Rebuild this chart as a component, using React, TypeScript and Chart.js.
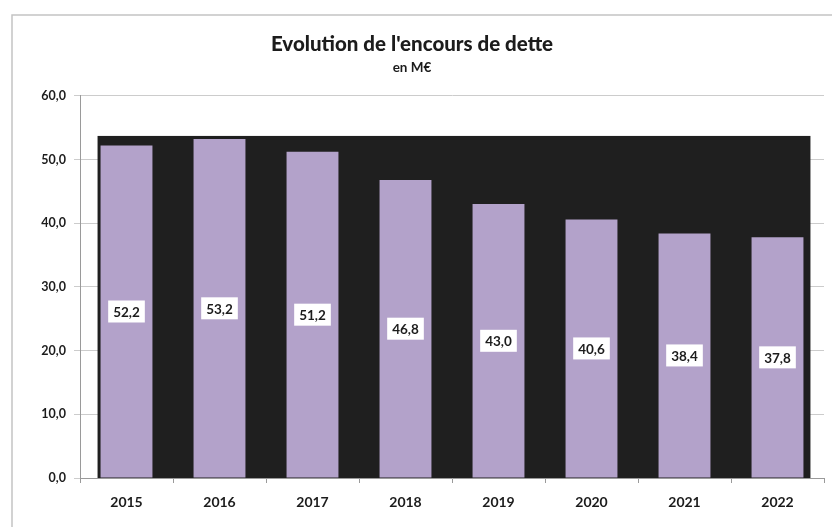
import { useEffect, useRef } from "react";
import { Chart, registerables } from "chart.js";

Chart.register(...registerables);

const categories = ["2015", "2016", "2017", "2018", "2019", "2020", "2021", "2022"];
const debtValues = [52.2, 53.2, 51.2, 46.8, 43.0, 40.6, 38.4, 37.8];
const yTickValues = [0, 10, 20, 30, 40, 50, 60];
const backdropTopValue = 53.7;
const titleText = "Evolution de l'encours de dette";
const subtitleText = "en M€";

const FONT = "Lato, 'Open Sans', sans-serif";
const TEXT = "#1c1c1c";

const fmt = (v: number) => v.toFixed(1).replace(".", ",");

const framePlugin = {
  id: "frame",
  beforeDraw(chart: any) {
    const ctx = chart.ctx;
    ctx.save();
    ctx.fillStyle = "#ffffff";
    ctx.fillRect(0, 0, chart.width, chart.height);
    ctx.strokeStyle = "#c4c4c4";
    ctx.lineWidth = 1.5;
    ctx.beginPath();
    ctx.moveTo(12, chart.height);
    ctx.lineTo(12, 15);
    ctx.lineTo(chart.width, 15);
    ctx.stroke();
    ctx.restore();
  },
};

const backdropPlugin = {
  id: "backdrop",
  beforeDatasetsDraw(chart: any) {
    const meta = chart.getDatasetMeta(0);
    if (!meta.data.length) return;
    const first = meta.data[0] as any;
    const last = meta.data[meta.data.length - 1] as any;
    const y = chart.scales.y;
    const left = first.x - first.width / 2 - 3;
    const right = last.x + last.width / 2 + 7;
    const top = y.getPixelForValue(backdropTopValue);
    const bottom = y.getPixelForValue(0);
    const ctx = chart.ctx;
    ctx.save();
    ctx.fillStyle = "#1f1f1f";
    ctx.fillRect(left, top, right - left, bottom - top);
    ctx.restore();
  },
};

const labelPlugin = {
  id: "centerLabels",
  afterDatasetsDraw(chart: any) {
    const meta = chart.getDatasetMeta(0);
    const ctx = chart.ctx;
    ctx.save();
    ctx.font = `bold 13.5px ${FONT}`;
    ctx.textAlign = "center";
    ctx.textBaseline = "middle";
    meta.data.forEach((bar: any, i: number) => {
      const cy = (bar.y + bar.base) / 2;
      const text = fmt(debtValues[i]);
      const w = ctx.measureText(text).width + 10;
      const h = 22;
      ctx.fillStyle = "#ffffff";
      ctx.fillRect(bar.x - w / 2, cy - h / 2, w, h);
      ctx.fillStyle = TEXT;
      ctx.fillText(text, bar.x, cy + 1);
    });
    ctx.restore();
  },
};

export default function App() {
  const ref = useRef<HTMLCanvasElement | null>(null);

  useEffect(() => {
    if (!ref.current) return;
    const chart = new Chart(ref.current, {
      type: "bar",
      data: {
        labels: categories,
        datasets: [
          {
            label: "Encours de dette",
            data: debtValues,
            backgroundColor: "#b3a2ca",
            borderWidth: 0,
            barPercentage: 0.9,
            categoryPercentage: 0.62,
          },
        ],
      },
      options: {
        responsive: false,
        animation: false,
        layout: { padding: { left: 0, right: 8, top: 0, bottom: 0 } },
        plugins: {
          legend: { display: false },
          tooltip: { enabled: false },
          title: {
            display: true,
            text: titleText,
            color: TEXT,
            font: { family: FONT, size: 20.5, weight: "900" },
            padding: { top: 32, bottom: 0 },
          },
          subtitle: {
            display: true,
            text: subtitleText,
            color: TEXT,
            font: { family: FONT, size: 13.5, weight: "bold" },
            padding: { top: 3, bottom: 20 },
          },
        },
        scales: {
          x: {
            grid: { drawOnChartArea: false, drawTicks: true, tickLength: 5, color: "#9a9a9a" },
            border: { color: "#9a9a9a" },
            ticks: {
              color: TEXT,
              font: { family: FONT, size: 14, weight: "bold" },
              padding: 11,
            },
            afterFit(scale: any) {
              scale.height = 49;
            },
          },
          y: {
            min: 0,
            max: 60,
            afterBuildTicks(scale: any) {
              scale.ticks = yTickValues.map((v) => ({ value: v }));
            },
            grid: { color: "#cccccc", tickLength: 6 },
            border: { color: "#9a9a9a" },
            ticks: {
              color: TEXT,
              font: { family: FONT, size: 12.5, weight: "bold" },
              padding: 8,
              callback: (v: any) => fmt(Number(v)),
            },
            afterFit(scale: any) {
              scale.width = 80;
            },
          },
        },
      },
      plugins: [framePlugin, backdropPlugin, labelPlugin],
    });
    return () => chart.destroy();
  }, []);

  return (
    <div style={{ position: "absolute", left: 0, top: 0, width: 832, height: 527 }}>
      <canvas ref={ref} width={832} height={527} style={{ display: "block" }} />
    </div>
  );
}
